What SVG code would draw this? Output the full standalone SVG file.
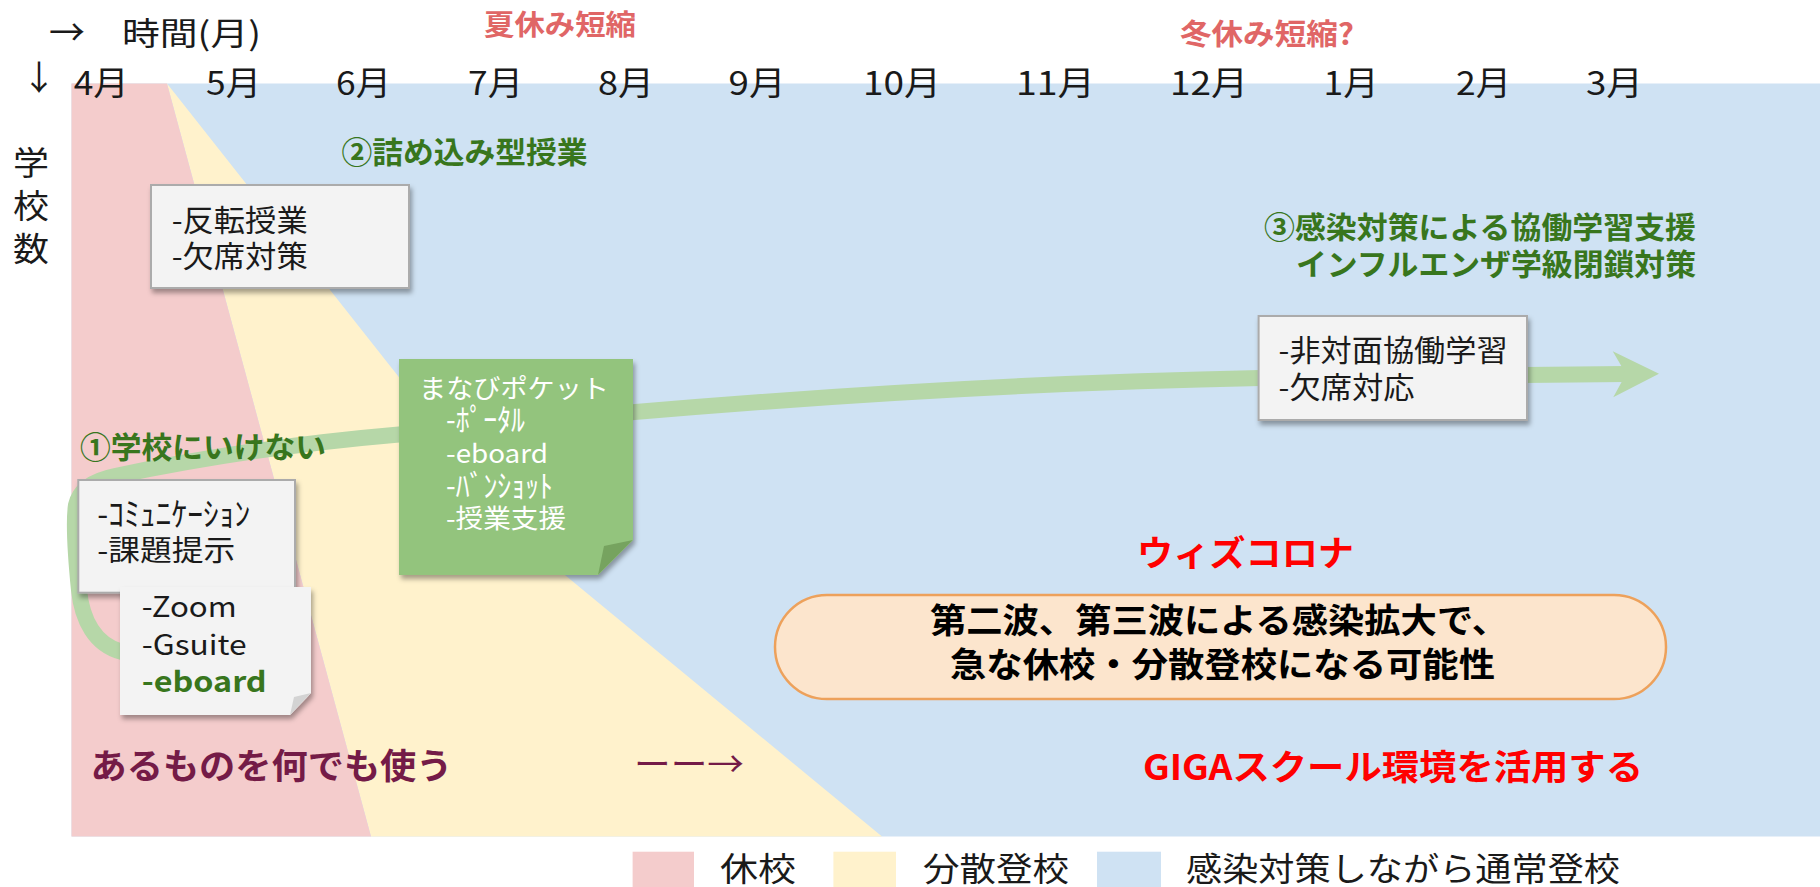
<svg xmlns="http://www.w3.org/2000/svg" width="1820" height="887" viewBox="0 0 1820 887">
<defs>
<style>
text { font-family: "Noto Sans CJK JP", "Noto Sans", sans-serif; }
.dk { fill: #1a1a1a; }
.grn { fill: #38761D; font-weight: bold; }
.red { fill: #FF0000; font-weight: bold; }
.sal { fill: #E06666; font-weight: bold; }
.mag { fill: #741B47; }
.wht { fill: #FFFFFF; }
.box { fill: #F3F3F3; stroke: #ABABAB; stroke-width: 2; }
.band { fill: none; stroke: #B6D7A8; stroke-width: 16; }
</style>
<filter id="sh" x="-10%" y="-10%" width="130%" height="130%">
<feDropShadow dx="2" dy="4" stdDeviation="2.5" flood-color="#000" flood-opacity="0.35"/>
</filter>
<marker id="ah" markerUnits="userSpaceOnUse" markerWidth="60" markerHeight="60" viewBox="-20 -30 60 60" refX="0" refY="0" orient="auto" overflow="visible">
<path d="M -13,-23 L 33,0 L -13,23 L 0,0 Z" fill="#B6D7A8"/>
</marker>
</defs>

<rect x="0" y="0" width="1820" height="887" fill="#FFFFFF"/>

<g id="regions">
<rect x="71.5" y="83.5" width="1748.5" height="753" fill="#CFE2F3"/>
<polygon points="167,83.5 537,552 882,836.5 371,836.5" fill="#FFF2CC"/>
<polygon points="71.5,83.5 167,83.5 371,836.5 71.5,836.5" fill="#F4CCCC"/>
</g>

<g id="axes">
<text x="49" y="46" font-size="36" class="dk">→</text>
<text x="122" y="45" font-size="32" class="dk" textLength="139" lengthAdjust="spacingAndGlyphs">時間(月)</text>
<text x="22" y="90" font-size="34" class="dk">↓</text>
<text x="13" y="175" font-size="33" class="dk" textLength="36" lengthAdjust="spacingAndGlyphs">学</text>
<text x="13" y="218" font-size="33" class="dk" textLength="36" lengthAdjust="spacingAndGlyphs">校</text>
<text x="13" y="261" font-size="33" class="dk" textLength="36" lengthAdjust="spacingAndGlyphs">数</text>
<g font-size="33" class="dk">
<text x="73.7" y="95" textLength="55" lengthAdjust="spacingAndGlyphs">4月</text>
<text x="206" y="95" textLength="55" lengthAdjust="spacingAndGlyphs">5月</text>
<text x="336" y="95" textLength="55" lengthAdjust="spacingAndGlyphs">6月</text>
<text x="468" y="95" textLength="55" lengthAdjust="spacingAndGlyphs">7月</text>
<text x="598" y="95" textLength="56" lengthAdjust="spacingAndGlyphs">8月</text>
<text x="728.6" y="95" textLength="57" lengthAdjust="spacingAndGlyphs">9月</text>
<text x="863" y="95" textLength="78" lengthAdjust="spacingAndGlyphs">10月</text>
<text x="1016" y="95" textLength="79" lengthAdjust="spacingAndGlyphs">11月</text>
<text x="1170" y="95" textLength="78" lengthAdjust="spacingAndGlyphs">12月</text>
<text x="1323.6" y="95" textLength="55" lengthAdjust="spacingAndGlyphs">1月</text>
<text x="1456" y="95" textLength="55" lengthAdjust="spacingAndGlyphs">2月</text>
<text x="1586" y="95" textLength="57" lengthAdjust="spacingAndGlyphs">3月</text>
</g>
</g>

<g id="season-labels">
<text x="484" y="35" font-size="28" class="sal" textLength="152" lengthAdjust="spacingAndGlyphs">夏休み短縮</text>
<text x="1180" y="45" font-size="29" class="sal" textLength="174" lengthAdjust="spacingAndGlyphs">冬休み短縮?</text>
</g>

<g id="connectors">
<path class="band" d="M 122,652 C 95,645 82,620 79,590 C 76,560 73,525 76,505 C 80,488 95,480 115,476 C 200,458 300,443 399,434.5 C 700,403 1000,383 1260,378 L 1626,374" marker-end="url(#ah)"/>
</g>

<g id="phase2-label">
<text x="341.5" y="163" font-size="30" class="grn" textLength="246" lengthAdjust="spacingAndGlyphs">②詰め込み型授業</text>
</g>

<g id="phase3-label">
<text x="1264" y="238" font-size="30" class="grn" textLength="432" lengthAdjust="spacingAndGlyphs">③感染対策による協働学習支援</text>
<text x="1296" y="275" font-size="30" class="grn" textLength="400" lengthAdjust="spacingAndGlyphs">インフルエンザ学級閉鎖対策</text>
</g>

<g id="box-hanten">
<rect class="box" x="151" y="185" width="258" height="103" filter="url(#sh)"/>
<text x="171.7" y="231" font-size="30" class="dk" textLength="136" lengthAdjust="spacingAndGlyphs">-反転授業</text>
<text x="171.7" y="267" font-size="30" class="dk" textLength="136" lengthAdjust="spacingAndGlyphs">-欠席対策</text>
</g>

<g id="note-manabi">
<polygon points="399,359 633,359 633,540 598,575 399,575" fill="#93C47D" filter="url(#sh)"/>
<polygon points="633,540 598,575 604,546" fill="#76A35F"/>
<text x="419" y="398" font-size="26" class="wht" textLength="190" lengthAdjust="spacingAndGlyphs">まなびポケット</text>
<text x="446" y="431" font-size="31" class="wht" textLength="79" lengthAdjust="spacingAndGlyphs">-ﾎﾟｰﾀﾙ</text>
<text x="446" y="463" font-size="26" class="wht" textLength="102" lengthAdjust="spacingAndGlyphs">-eboard</text>
<text x="446" y="497" font-size="31" class="wht" textLength="107" lengthAdjust="spacingAndGlyphs">-ﾊﾞﾝｼｮｯﾄ</text>
<text x="446" y="528" font-size="26" class="wht" textLength="120" lengthAdjust="spacingAndGlyphs">-授業支援</text>
</g>

<g id="phase1-label">
<text x="80" y="458" font-size="30" class="grn" textLength="246" lengthAdjust="spacingAndGlyphs">①学校にいけない</text>
</g>

<g id="box-comm">
<rect class="box" x="78.3" y="480" width="216.7" height="112.7" filter="url(#sh)"/>
<text x="97.3" y="526" font-size="33" class="dk" textLength="153" lengthAdjust="spacingAndGlyphs">-ｺﾐｭﾆｹｰｼｮﾝ</text>
<text x="97.3" y="561" font-size="29" class="dk" textLength="138" lengthAdjust="spacingAndGlyphs">-課題提示</text>
</g>

<g id="box-zoom">
<polygon points="120,587 311,587 311,693 290,715 120,715" fill="#F3F3F3" filter="url(#sh)"/>
<polygon points="311,693 290,715 294,697" fill="#D3D3D3"/>
<text x="141.7" y="617" font-size="28" class="dk" textLength="95" lengthAdjust="spacingAndGlyphs">-Zoom</text>
<text x="141.7" y="655" font-size="28" class="dk" textLength="105" lengthAdjust="spacingAndGlyphs">-Gsuite</text>
<text x="141.7" y="692" font-size="28" class="grn" textLength="125" lengthAdjust="spacingAndGlyphs">-eboard</text>
</g>

<g id="box-hitaimen">
<rect class="box" x="1258.6" y="316" width="268.4" height="104" filter="url(#sh)"/>
<text x="1278.6" y="361" font-size="30" class="dk" textLength="229" lengthAdjust="spacingAndGlyphs">-非対面協働学習</text>
<text x="1278.6" y="398" font-size="30" class="dk" textLength="136" lengthAdjust="spacingAndGlyphs">-欠席対応</text>
</g>

<g id="with-corona">
<text x="1137" y="566" font-size="35" class="red" textLength="217" lengthAdjust="spacingAndGlyphs">ウィズコロナ</text>
</g>

<g id="pill">
<rect x="775" y="595" width="891" height="104" rx="52" ry="52" fill="#FCE5CD" stroke="#EDA15B" stroke-width="2.5"/>
<text x="930" y="633" font-size="34" font-weight="bold" fill="#000" textLength="578" lengthAdjust="spacingAndGlyphs">第二波、第三波による感染拡大で、</text>
<text x="950" y="677" font-size="34" font-weight="bold" fill="#000" textLength="545" lengthAdjust="spacingAndGlyphs">急な休校・分散登校になる可能性</text>
</g>

<g id="bottom-labels">
<text x="90.5" y="779" font-size="35" font-weight="bold" class="mag" textLength="362" lengthAdjust="spacingAndGlyphs">あるものを何でも使う</text>
<text x="634" y="777" font-size="35" class="mag" textLength="110" lengthAdjust="spacingAndGlyphs">ーー→</text>
<text x="1143" y="780" font-size="35" class="red" textLength="500" lengthAdjust="spacingAndGlyphs">GIGAスクール環境を活用する</text>
</g>

<g id="legend">
<rect x="632.6" y="851.7" width="61.4" height="36" fill="#F4CCCC"/>
<text x="720" y="881" font-size="33" class="dk" textLength="76" lengthAdjust="spacingAndGlyphs">休校</text>
<rect x="833.4" y="851.7" width="62.6" height="36" fill="#FFF2CC"/>
<text x="923" y="881" font-size="33" class="dk" textLength="146" lengthAdjust="spacingAndGlyphs">分散登校</text>
<rect x="1097" y="851.7" width="64" height="36" fill="#CFE2F3"/>
<text x="1186" y="881" font-size="33" class="dk" textLength="434" lengthAdjust="spacingAndGlyphs">感染対策しながら通常登校</text>
</g>
</svg>
